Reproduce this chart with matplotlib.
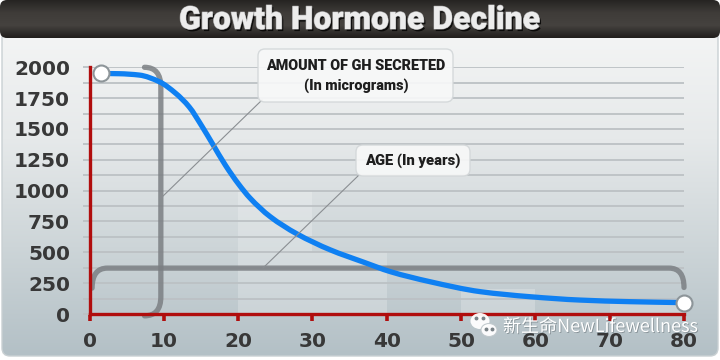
import numpy as np
import matplotlib
matplotlib.use("Agg")
import matplotlib.pyplot as plt
from matplotlib.patches import FancyBboxPatch, PathPatch, Ellipse
from matplotlib.path import Path
from matplotlib.colors import LinearSegmentedColormap
import matplotlib.patheffects as pe
from matplotlib.ticker import MultipleLocator

# ---------------- data ----------------
title = "Growth Hormone Decline"
ages = [1.5, 4, 6.7, 9.4, 11.6, 13.4, 15.2, 16.5, 18.3, 20.1, 21.6, 24.3,
        27.9, 32.4, 36.9, 40.5, 45.8, 52.6, 59.3, 66, 72.7, 80]
gh = [1950, 1948, 1937, 1883, 1789, 1680, 1515, 1385, 1205, 1050, 940, 790,
      650, 520, 420, 343, 262, 181, 140, 113, 100, 92]
x_ticks = [0, 10, 20, 30, 40, 50, 60, 70, 80]
y_ticks = [0, 250, 500, 750, 1000, 1250, 1500, 1750, 2000]
band_left = [20, 30, 50, 70]
band_height = [1000, 500, 200, 100]
label_amount = "AMOUNT OF GH SECRETED\n(In micrograms)"
label_age = "AGE (In years)"
watermark = "新生命NewLifewellness"

W, H = 720, 360
fig = plt.figure(figsize=(7.2, 3.6), dpi=100, facecolor="white")

HEAVY = ["Roboto", "Liberation Sans", "DejaVu Sans"]

# ---------------- background (pixel coordinates) ----------------
bg = fig.add_axes([0, 0, 1, 1], zorder=-5)
bg.set_xlim(0, W); bg.set_ylim(H, 0); bg.axis("off")

panel = FancyBboxPatch((2, 30), W - 4, 326, boxstyle="round,pad=0,rounding_size=8",
                       fc="none", ec="#c9d0d3", lw=1.0)
bg.add_patch(panel)
grad = np.linspace(0, 1, 256)[:, None]
cm_bg = LinearSegmentedColormap.from_list("bg", ["#f4f5f5", "#e6e9ea", "#cdd5d8", "#b3c0c6"])
im = bg.imshow(grad, cmap=cm_bg, extent=(2, W - 2, 356, 30), aspect="auto", zorder=0)
im.set_clip_path(panel)

tb = FancyBboxPatch((0, 0), W, 38, boxstyle="round,pad=0,rounding_size=7",
                    fc="none", ec="none")
bg.add_patch(tb)
cm_tb = LinearSegmentedColormap.from_list("tb", ["#262422", "#3f3c39", "#45423f", "#201e1c"])
im2 = bg.imshow(grad, cmap=cm_tb, extent=(0, W, 38, 0), aspect="auto", zorder=1)
im2.set_clip_path(tb)
bg.text(360, 20, title, ha="center", va="center", fontsize=23, fontweight="black",
        family=HEAVY, color="#ececec", zorder=3,
        path_effects=[pe.withSimplePatchShadow(offset=(1.2, -1.5), shadow_rgbFace="#000000", alpha=0.8),
                      pe.Stroke(linewidth=0.8, foreground="#9a9a9a"), pe.Normal()])

# ---------------- main axes ----------------
x0, x1 = 89.5, 684.0
y0, y1 = 314.0, 67.3
ax = fig.add_axes([x0 / W, 1 - y0 / H, (x1 - x0) / W, (y0 - y1) / H])
ax.set_facecolor("none")
ax.set_xlim(0, 80)
ax.set_ylim(0, 2000)

ax.bar(band_left, band_height, width=10, align="edge", color="white", alpha=0.22,
       lw=0, zorder=0)

ax.yaxis.set_minor_locator(MultipleLocator(125))
ax.set_yticks(y_ticks)
ax.set_xticks(x_ticks)
ax.grid(True, which="both", axis="y", color="#bcc1c4", lw=1.3, zorder=1)
ax.grid(False, axis="x")

for s in ["top", "right"]:
    ax.spines[s].set_visible(False)
for s in ["left", "bottom"]:
    ax.spines[s].set_color("#b00d0d")
    ax.spines[s].set_linewidth(2.4)
    ax.spines[s].set_zorder(6)
ax.tick_params(axis="x", colors="#b00d0d", length=5, width=2.6, direction="out",
               labelcolor="#383838", labelsize=14.5, pad=8)
ax.tick_params(axis="y", which="both", colors="#bcc1c4", length=5, width=1.3,
               labelcolor="#383838", labelsize=14.5, pad=9)
for lab in ax.get_xticklabels() + ax.get_yticklabels():
    lab.set_fontweight("bold")

# brackets (decorative)
bracket_kw = dict(fc="none", ec="#7b7f83", lw=3.8, alpha=0.85, capstyle="round", zorder=3)
vb = Path([(7.4, 2000), (9.6, 2000), (9.6, 1840), (9.6, 140), (9.6, -15), (7.4, -15)],
          [Path.MOVETO, Path.CURVE3, Path.CURVE3, Path.LINETO, Path.CURVE3, Path.CURVE3])
ax.add_patch(PathPatch(vb, clip_on=False, **bracket_kw))
hb = Path([(0.35, 210), (0.35, 372), (2.4, 372), (78.0, 372), (80, 372), (80, 215)],
          [Path.MOVETO, Path.CURVE3, Path.CURVE3, Path.LINETO, Path.CURVE3, Path.CURVE3])
ax.add_patch(PathPatch(hb, clip_on=False, **bracket_kw))

# smooth curve through the read points (monotone cubic Bezier segments)
xa = np.asarray(ages, float); ya = np.asarray(gh, float)
h = np.diff(xa); d = np.diff(ya) / h
m = np.zeros_like(xa)
m[0], m[-1] = d[0], d[-1]
for i in range(1, len(xa) - 1):
    if d[i - 1] * d[i] <= 0:
        m[i] = 0
    else:
        w1 = 2 * h[i] + h[i - 1]; w2 = h[i] + 2 * h[i - 1]
        m[i] = (w1 + w2) / (w1 / d[i - 1] + w2 / d[i])
verts = [(xa[0], ya[0])]; codes = [Path.MOVETO]
for i in range(len(xa) - 1):
    verts += [(xa[i] + h[i] / 3, ya[i] + m[i] * h[i] / 3),
              (xa[i + 1] - h[i] / 3, ya[i + 1] - m[i + 1] * h[i] / 3),
              (xa[i + 1], ya[i + 1])]
    codes += [Path.CURVE4] * 3
ax.add_patch(PathPatch(Path(verts, codes), fc="none", ec="#0f80f2", lw=3.8,
                       capstyle="round", joinstyle="round", zorder=5, clip_on=False))
ax.plot([ages[0], ages[-1]], [gh[0], gh[-1]], "o", ms=11.5, mfc="white",
        mec="#8d9599", mew=1.5, zorder=7, clip_on=False)

# ---------------- foreground overlay (pixel coordinates) ----------------
fg = fig.add_axes([0, 0, 1, 1], zorder=10)
fg.set_xlim(0, W); fg.set_ylim(H, 0); fg.axis("off"); fg.patch.set_alpha(0)

fg.plot([262, 161], [100, 198], color="#8a8e92", lw=0.8, zorder=1)
fg.plot([359, 263], [175, 268], color="#8a8e92", lw=0.8, zorder=1)

for (bx, by, bw, bh) in [(258, 49, 195, 53), (356, 145, 114, 31)]:
    fg.add_patch(FancyBboxPatch((bx, by), bw, bh, boxstyle="round,pad=0,rounding_size=7",
                                fc="#f7f8f8", ec="#d3d7d9", lw=1.0, alpha=0.92, zorder=2))
fg.text(356, 76, label_amount, ha="center", va="center", fontsize=10.4,
        fontweight="black", family=HEAVY, color="#1e1e1e", linespacing=1.35, zorder=3)
fg.text(413, 161, label_age, ha="center", va="center", fontsize=10.6,
        fontweight="black", family=HEAVY, color="#1e1e1e", zorder=3)

# wechat-like icon + watermark text
fg.add_patch(Ellipse((480, 321), 19, 16, fc="white", ec="none", alpha=0.95, zorder=3))
fg.add_patch(Ellipse((489, 330), 16, 13, fc="white", ec="#c0c8cc", lw=0.8, alpha=0.95, zorder=4))
for (ex, ey) in [(476, 318), (483, 318), (486, 329), (492, 329)]:
    fg.plot(ex, ey, "o", ms=1.8, color="#7a8388", zorder=5)
fg.text(503, 327, watermark, ha="left", va="center", fontsize=13,
        family=["Noto Sans CJK SC", "DejaVu Sans"], color="white", zorder=5,
        path_effects=[pe.withSimplePatchShadow(offset=(0.6, -0.6), shadow_rgbFace="#556066", alpha=0.5)])

fig.savefig("out.png", dpi=100, facecolor="white")
